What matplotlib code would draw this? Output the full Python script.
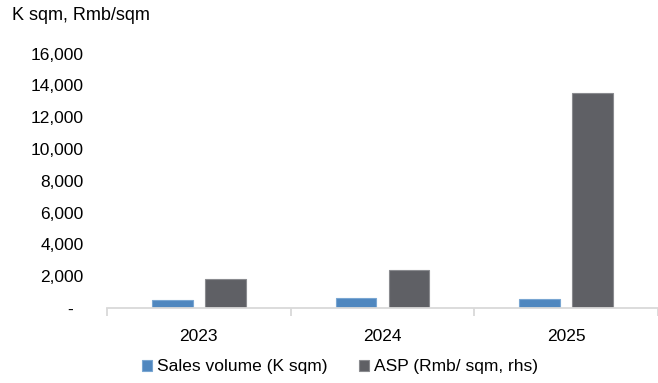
import matplotlib
matplotlib.use('Agg')
import matplotlib.pyplot as plt
from matplotlib.ticker import FuncFormatter, FixedLocator

# sales volume (K sqm) and average selling price (Rmb/sqm)
years = ["2023", "2024", "2025"]
sales_volume = [530, 655, 540]
asp = [1855, 2360, 13500]

plt.rcParams['font.family'] = ['Liberation Sans', 'DejaVu Sans']
plt.rcParams['font.size'] = 12.5

fig = plt.figure(figsize=(6.58, 3.83), dpi=100)
ax = fig.add_axes([0.1626, 0.1958, 0.8374, 0.6645])

x = list(range(len(years)))
w = 0.222
off = 0.144
ax.bar([i - off for i in x], sales_volume, width=w, color='#4F87BF',
       edgecolor='#79A6D2', linewidth=0.8, label='Sales volume (K sqm)')
ax.bar([i + off for i in x], asp, width=w, color='#5F6065',
       edgecolor='#8A8B8F', linewidth=0.8, label='ASP (Rmb/ sqm, rhs)')

ax.set_xlim(-0.5, len(years) - 0.5)
ax.set_ylim(0, 16000)
ax.set_yticks(range(0, 16001, 2000))
# accounting style: zero shown as a dash
ax.yaxis.set_major_formatter(FuncFormatter(lambda v, p: '-  ' if v == 0 else f'{v:,.0f}'))
ax.tick_params(axis='y', length=0, pad=17)

ax.set_xticks(x)
ax.set_xticklabels(years)
# separator ticks between the year groups
ax.xaxis.set_minor_locator(FixedLocator([i - 0.5 for i in range(len(years) + 1)]))
ax.tick_params(axis='x', which='major', length=0, pad=15)
ax.tick_params(axis='x', which='minor', length=6, width=1.3, color='#D9D9D9')

for s in ['top', 'right', 'left']:
    ax.spines[s].set_visible(False)
ax.spines['bottom'].set_color('#D9D9D9')
ax.spines['bottom'].set_linewidth(1.3)

fig.text(0.018, 0.96, 'K sqm, Rmb/sqm', ha='left', va='center', fontsize=13)

fig.legend(loc='center', bbox_to_anchor=(0.517, 0.042), ncol=2, frameon=False,
           handlelength=0.58, handleheight=0.58, handletextpad=0.3,
           columnspacing=1.8, borderaxespad=0, borderpad=0)

fig.savefig('out.png', dpi=100)
